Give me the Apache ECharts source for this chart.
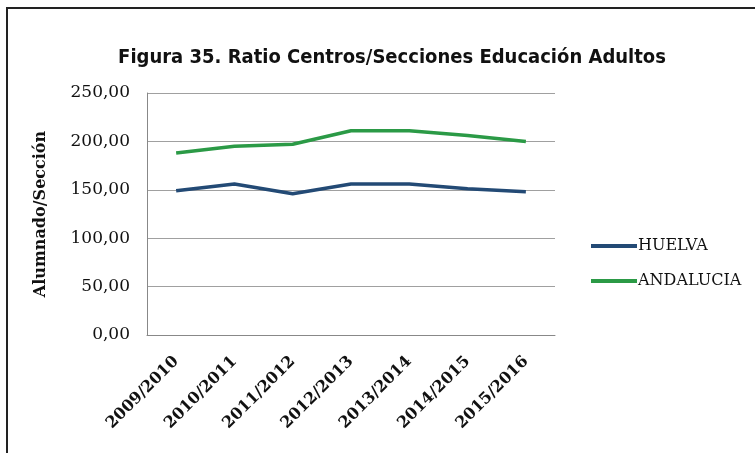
<!DOCTYPE html>
<html><head><meta charset="utf-8">
<script src="https://cdn.jsdelivr.net/npm/echarts@6/dist/echarts.min.js"></script>
<style>html,body{margin:0;padding:0;background:#fff}#c{width:755px;height:453px}</style>
</head><body><div id="c"></div>
<script>
const categories = ['2009/2010','2010/2011','2011/2012','2012/2013','2013/2014','2014/2015','2015/2016'];
const huelva = [149, 156, 146, 156, 156, 151, 148];
const andalucia = [188, 195, 197, 211, 211, 206, 200];
const yTicks = {min: 0, max: 250, interval: 50};

const font = 'DejaVu Serif';
const chart = echarts.init(document.getElementById('c'));
chart.setOption({
  animation: false,
  backgroundColor: '#fff',
  graphic: [{type:'rect', shape:{x:7,y:8,width:800,height:500}, style:{fill:'none', stroke:'#222', lineWidth:2}}],
  title: {text: 'Figura 35. Ratio Centros/Secciones Educación Adultos', left: 387, textAlign: 'center', top: 43,
    textStyle: {fontFamily: 'DejaVu Sans Condensed', fontWeight: 'bold', fontSize: 20, color: '#111'}},
  legend: {orient: 'vertical', left: 586, top: 233, itemGap: 19, itemWidth: 46, itemHeight: 4,
    icon: 'rect',
    textStyle: {fontFamily: font, fontSize: 16, color: '#111', padding: [0,0,0,-4]},
    data: ['HUELVA','ANDALUCIA']},
  grid: {left: 147, right: 200, top: 93, bottom: 118},
  xAxis: {type: 'category', data: categories, boundaryGap: true,
    axisLine: {lineStyle: {color: '#888'}}, axisTick: {show: false},
    axisLabel: {rotate: 45, fontFamily: font, fontSize: 16, color: '#111', margin: 24, fontWeight: 'bold'}},
  yAxis: {type: 'value', min: yTicks.min, max: yTicks.max, interval: yTicks.interval,
    name: 'Alumnado/Sección', nameLocation: 'middle', nameGap: 98, nameRotate: 90,
    nameTextStyle: {fontFamily: font, fontWeight: 'bold', fontSize: 16, color: '#111'},
    axisLine: {show: true, lineStyle: {color: '#888'}}, axisTick: {show: false},
    splitLine: {lineStyle: {color: '#a0a0a0'}},
    axisLabel: {fontFamily: font, fontSize: 17, color: '#111', margin: 17,
      formatter: v => v.toFixed(2).replace('.', ',')}},
  series: [
    {name: 'HUELVA', type: 'line', data: huelva, symbol: 'none', smooth: false,
      lineStyle: {width: 3.5, color: '#234a75'}, itemStyle: {color: '#234a75'}},
    {name: 'ANDALUCIA', type: 'line', data: andalucia, symbol: 'none',
      lineStyle: {width: 3.5, color: '#2b9a46'}, itemStyle: {color: '#2b9a46'}}
  ]
});
</script></body></html>
